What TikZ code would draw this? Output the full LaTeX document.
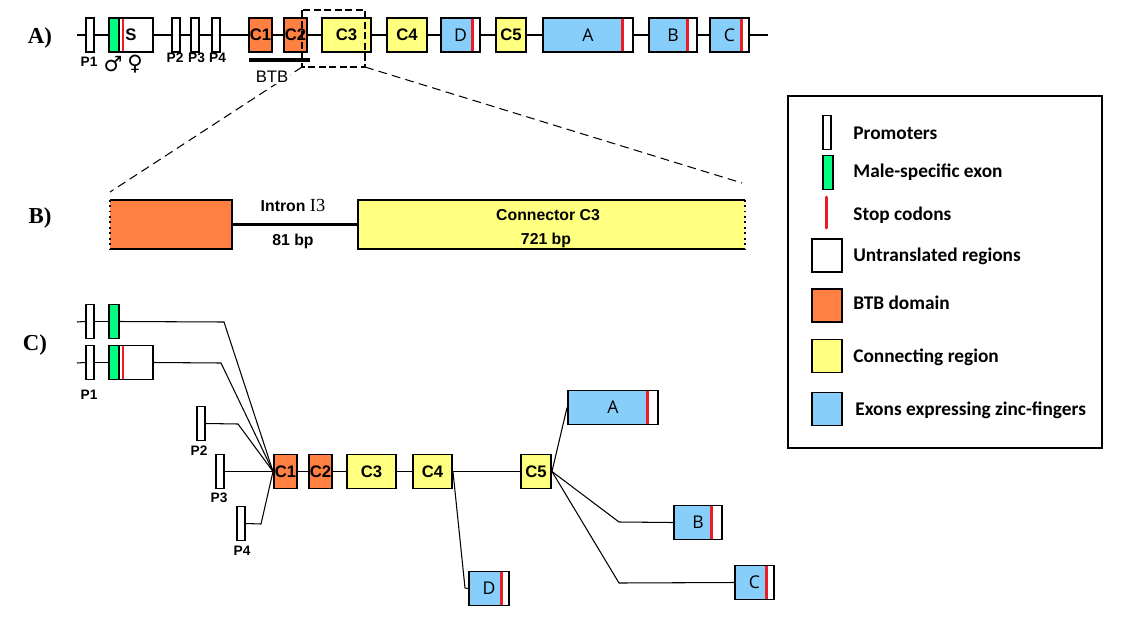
\documentclass[tikz,border=0pt]{standalone}
\usepackage{fontspec}
\setmainfont{Liberation Sans}
\newfontfamily\serifrm{Liberation Serif}
\newfontfamily\legfont{Carlito}
\newfontfamily\exfont{Open Sans}
\newfontfamily\symfont{DejaVu Sans}
\usetikzlibrary{positioning}
\usepackage{xcolor}
\definecolor{btb}{HTML}{FF8040}
\definecolor{conn}{HTML}{FFFF80}
\definecolor{zinc}{HTML}{87CEFA}
\definecolor{mgrn}{HTML}{00FF80}
\definecolor{stopred}{HTML}{ED1C24}
\newcommand{\pxu}{0.02cm}
\newcommand{\lfont}{\bfseries\fontsize{9.5}{11}\selectfont}
\newcommand{\zfont}{\exfont\fontsize{10}{12}\selectfont}
\tikzset{
  bx/.style 2 args={rectangle,draw=black,line width=1.1pt,inner sep=0pt,
                   minimum width=#1*\pxu,minimum height=#2*\pxu},
  prom/.style={bx={8}{34},fill=white},
  mex/.style={bx={10}{34},fill=mgrn},
  utr/.style={bx={#1}{34},fill=white,font=\lfont},
  dom/.style={bx={#1}{34},fill=btb,font=\lfont},
  con/.style={bx={#1}{34},fill=conn,font=\lfont},
  stopc/.style={draw=stopred,line width=1.7pt},
  zf/.style 2 args={bx={#1}{34},fill=zinc,font=\zfont,
    path picture={
      \fill[white] ([xshift=-#2*\pxu]path picture bounding box.north east)
        rectangle (path picture bounding box.south east);
      \draw[stopc] ([xshift=-#2*\pxu]path picture bounding box.north east)
        -- ([xshift=-#2*\pxu]path picture bounding box.south east);}},
  mutr/.style={bx={44}{34},fill=white,font=\lfont,
    path picture={
      \fill[mgrn] (path picture bounding box.north west)
        rectangle ([xshift=10*\pxu]path picture bounding box.south west);
      \draw[line width=1.1pt] ([xshift=10*\pxu]path picture bounding box.north west)
        -- ([xshift=10*\pxu]path picture bounding box.south west);
      \draw[stopc] ([xshift=14*\pxu]path picture bounding box.north west)
        -- ([xshift=14*\pxu]path picture bounding box.south west);}},
  lnk/.style={line width=0.6pt},
  plbl/.style={font=\bfseries\fontsize{7.8}{9}\selectfont,inner sep=0pt},
  rowlbl/.style={font=\serifrm\bfseries\fontsize{13}{15}\selectfont,inner sep=0pt},
  leg/.style={anchor=west,inner sep=0pt,font=\legfont\bfseries\fontsize{11}{13}\selectfont},
  zoomln/.style={dash pattern=on 5pt off 3pt,line width=0.6pt},
}

\begin{document}
\begin{tikzpicture}[x=\pxu,y=-\pxu]
  \useasboundingbox (0,0) rectangle (1125,622);

  % row labels
  \node[rowlbl] (lA) at (40,38)  {A)};
  \node[rowlbl] (lB) at (40,218) {B)};
  \node[rowlbl] (lC) at (35,345) {C)};

  % A) gene structure
  \coordinate (a0) at (77,35);
  \coordinate (a1) at (768,35);
  \draw[lnk] (a0) -- (a1);
  \node[prom]      (aP1) at (90,35)    {};
  \node[mutr]      (aS)  at (131,35)   {S};
  \node[prom]      (aP2) at (176,35)   {};
  \node[prom]      (aP3) at (195,35)   {};
  \node[prom]      (aP4) at (216,35)   {};
  \node[dom=23]    (aC1) at (260.5,35) {C1};
  \node[dom=23]    (aC2) at (295.5,35) {C2};
  \node[con=49]    (aC3) at (346.5,35) {C3};
  \node[con=40]    (aC4) at (407,35)   {C4};
  \node[zf={39}{8}]  (aD) at (460.5,35) {D};
  \node[con=30]    (aC5) at (511,35)   {C5};
  \node[zf={90}{11}] (aA) at (588,35)   {A};
  \node[zf={48}{10}] (aB) at (673,35)   {B};
  \node[zf={39}{8}]  (aC) at (729.5,35) {C};

  \node[plbl] (tP1) at (89,62)    {P1};
  \node[plbl] (tP2) at (175,58)   {P2};
  \node[plbl] (tP3) at (196.5,58) {P3};
  \node[plbl] (tP4) at (217.5,58) {P4};
  \node[font=\symfont\fontsize{12}{14}\selectfont,inner sep=0pt] (male) at (113,64) {♂};
  \node[font=\symfont\fontsize{12}{14}\selectfont,inner sep=0pt] (fem)  at (135,64) {♀};

  \draw[line width=1.8pt] (249,60) -- (310,60);

  % zoom onto C3
  \draw[zoomln] (302,67) -- (110,192);
  \draw[zoomln] (365,67) -- (742,183);
  \node[fill=white,inner sep=1pt,font=\fontsize{9.5}{11}\selectfont] (btbl) at (272,77) {BTB};
  \draw[line width=1.1pt,dash pattern=on 4pt off 2pt] (302,10) rectangle (365,67);

  % B) intron I3 and connector C3
  \node[rectangle,fill=btb,inner sep=0pt,minimum width=122*\pxu,minimum height=49*\pxu] (bo) at (171,224.5) {};
  \node[rectangle,fill=conn,inner sep=0pt,minimum width=387*\pxu,minimum height=49*\pxu] (by) at (551.5,224.5) {};
  \draw[line width=1.1pt] (bo.south west) -- (bo.south east) -- (bo.north east) -- (bo.north west);
  \draw[line width=1.1pt,dotted] (bo.north west) -- (bo.south west);
  \draw[line width=1.1pt] (by.north east) -- (by.north west) -- (by.south west) -- (by.south east);
  \draw[line width=1.1pt,dotted] (by.north east) -- (by.south east);
  \draw[line width=1.8pt] (bo.east) -- (by.west);
  \node[font=\bfseries\fontsize{9}{11}\selectfont] (tI3) at (293,205) {Intron {\serifrm\mdseries\fontsize{10.5}{12}\selectfont I3}};
  \node[font=\bfseries\fontsize{9}{11}\selectfont] (t81) at (293,241) {81 bp};
  \node[font=\bfseries\fontsize{9}{11}\selectfont] (tcn) at (548,215) {Connector C3};
  \node[font=\bfseries\fontsize{9}{11}\selectfont] (t721) at (546,240) {721 bp};

  % C) transcripts
  \coordinate (c0) at (77,322);
  \coordinate (c0b) at (77,363);
  \node[prom]      (cP1a) at (90,321.5)  {};
  \node[mex]       (cM)   at (114,321.5) {};
  \node[prom]      (cP1b) at (90,362.5)  {};
  \node[mutr]      (cS)   at (131,362.5) {};
  \node[prom]      (cP2)  at (201,423.5) {};
  \node[prom]      (cP3)  at (220,471.5) {};
  \node[prom]      (cP4)  at (241,523.5) {};
  \node[dom=23]    (cC1)  at (285.5,471.5) {C1};
  \node[dom=23]    (cC2)  at (320.5,471.5) {C2};
  \node[con=49]    (cC3)  at (371.5,471.5) {C3};
  \node[con=39]    (cC4)  at (432.5,471.5) {C4};
  \node[con=30]    (cC5)  at (536,471.5)   {C5};
  \node[zf={90}{11}] (cA) at (613,407.5)   {A};
  \node[zf={48}{11}] (cB) at (698,522.5)   {B};
  \node[zf={39}{8}]  (cC) at (754.5,582.5) {C};
  \node[zf={40}{8}]  (cD) at (489,588.5)   {D};

  \node[plbl] (uP1) at (89,395)  {P1};
  \node[plbl] (uP2) at (199,451) {P2};
  \node[plbl] (uP3) at (219,498) {P3};
  \node[plbl] (uP4) at (242,551) {P4};

  \coordinate (k1) at (224,322);
  \coordinate (k2) at (221,363);
  \coordinate (k3) at (238,424);
  \coordinate (k4) at (261,524);
  \coordinate (kD) at (465,588);
  \coordinate (kB) at (619,522);
  \coordinate (kC) at (619,583);

  \draw[lnk] (c0) -- (cP1a.west);
  \draw[lnk] (cP1a.east) -- (cM.west);
  \draw[lnk] (cM.east) -- (k1) -- (cC1.west);
  \draw[lnk] (c0b) -- (cP1b.west);
  \draw[lnk] (cP1b.east) -- (cS.west);
  \draw[lnk] (cS.east) -- (k2) -- (cC1.west);
  \draw[lnk] (cP2.east) -- (k3) -- (cC1.west);
  \draw[lnk] (cP3.east) -- (cC1.west);
  \draw[lnk] (cP4.east) -- (k4) -- (cC1.west);
  \draw[lnk] (cC1) -- (cC2);
  \draw[lnk] (cC2) -- (cC3);
  \draw[lnk] (cC3) -- (cC4);
  \draw[lnk] (cC4) -- (cC5);
  \draw[lnk] (cC4.east) -- (kD) -- (cD.west);
  \draw[lnk] (cC5.east) -- (cA.west);
  \draw[lnk] (cC5.east) -- (kB) -- (cB.west);
  \draw[lnk] (cC5.east) -- (kC) -- (cC.west);

  % legend
  \draw[line width=0.6pt] (788,96) rectangle (1102,448);
  \node[prom]                  (gP) at (827,132.5) {};
  \node[mex]                   (gM) at (828,172.5) {};
  \coordinate (gs0) at (826,197);
  \coordinate (gs1) at (826,228);
  \draw[stopc,line cap=round] (gs0) -- (gs1);
  \node[bx={30}{33},fill=white] (gU) at (827,255.5) {};
  \node[bx={30}{33},fill=btb]   (gB) at (827,305.5) {};
  \node[bx={30}{33},fill=conn]  (gC) at (827,356)   {};
  \node[bx={30}{33},fill=zinc]  (gZ) at (827,409)   {};
  \node[leg] at (853,133) {Promoters};
  \node[leg] at (853,172) {Male-specific exon};
  \node[leg] at (853,215) {Stop codons};
  \node[leg] at (853,256) {Untranslated regions};
  \node[leg] at (853,303) {BTB domain};
  \node[leg] at (853,357) {Connecting region};
  \node[leg] at (855,410) {Exons expressing zinc-fingers};
\end{tikzpicture}
\end{document}
